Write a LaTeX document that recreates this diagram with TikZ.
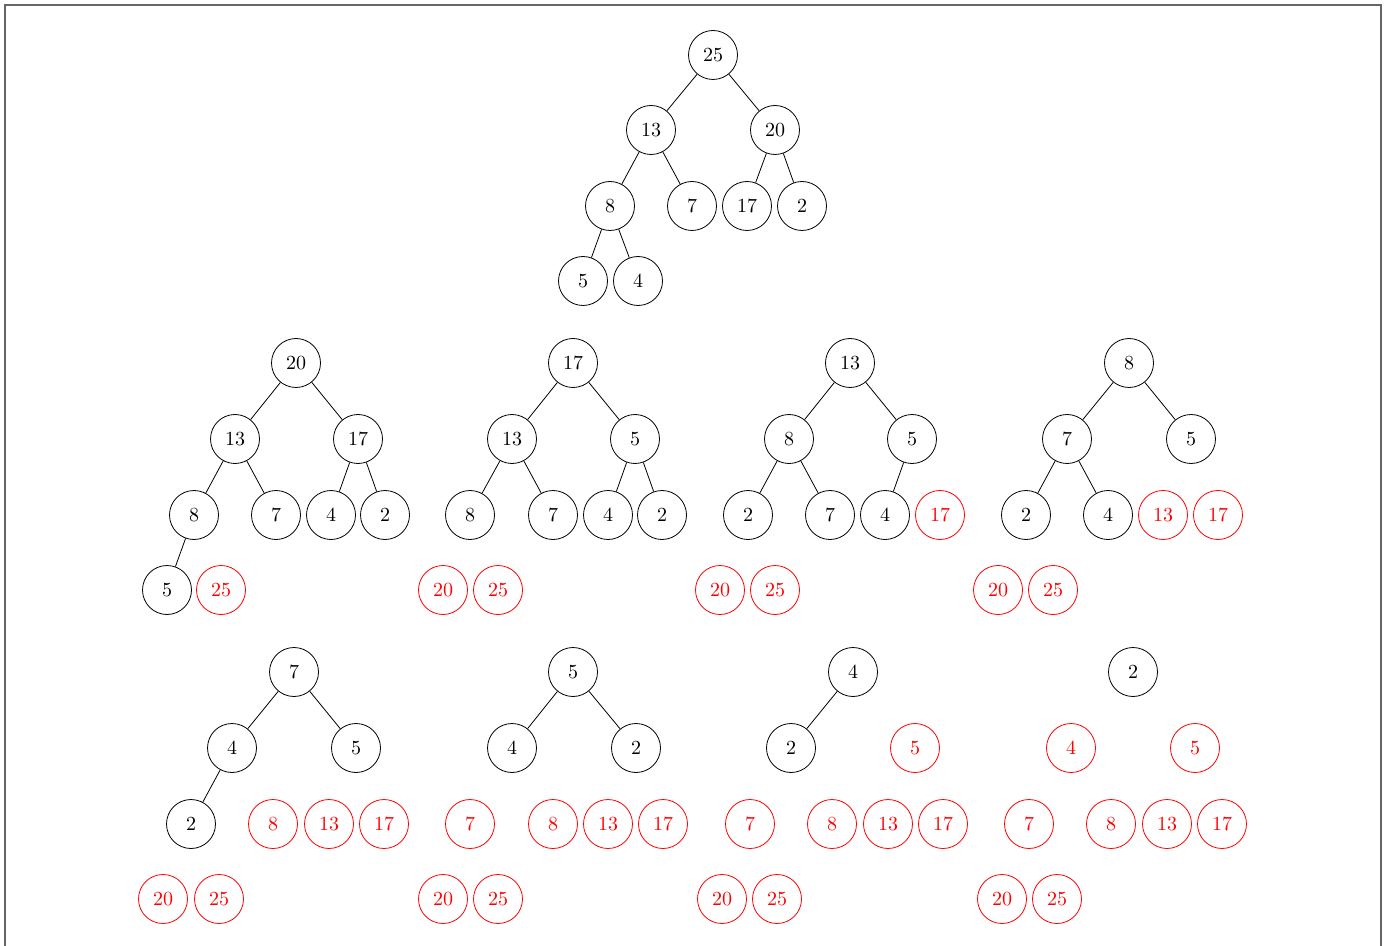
\documentclass[tikz,border=0pt]{standalone}
\begin{document}
\begin{tikzpicture}[x=0.5pt,y=-0.5pt,
  hn/.style={circle,draw=black,text=black,minimum size=24.5pt,inner sep=0pt,line width=0.4pt},
  dn/.style={circle,draw=red,text=red,minimum size=24.5pt,inner sep=0pt,line width=0.4pt},
  edge/.style={draw=black,line width=0.4pt}]
\useasboundingbox (0,0) rectangle (1386,946);
\clip (0,0) rectangle (1386,946);
\draw[black!60,line width=0.8pt] (5,5) rectangle (1381,980);
% Tree 1
\node[hn] (a25) at (713,55) {25};
\node[hn] (a13) at (651,130) {13};
\node[hn] (a20) at (775,130) {20};
\node[hn] (a8) at (610,206) {8};
\node[hn] (a7) at (692,206) {7};
\node[hn] (a17) at (747,206) {17};
\node[hn] (a2) at (802,206) {2};
\node[hn] (a5) at (583,281) {5};
\node[hn] (a4) at (638,281) {4};
\path[edge] (a25)--(a13) (a25)--(a20) (a13)--(a8) (a13)--(a7) (a20)--(a17) (a20)--(a2) (a8)--(a5) (a8)--(a4);
% Tree B1
\node[hn] (b20) at (296,363) {20};
\node[hn] (b13) at (235,439) {13};
\node[hn] (b17) at (358,439) {17};
\node[hn] (b8) at (194,515) {8};
\node[hn] (b7) at (276,515) {7};
\node[hn] (b4) at (331,515) {4};
\node[hn] (b2) at (385,515) {2};
\node[hn] (b5) at (167,590) {5};
\node[dn] (b25) at (221,590) {25};
\path[edge] (b20)--(b13) (b20)--(b17) (b13)--(b8) (b13)--(b7) (b17)--(b4) (b17)--(b2) (b8)--(b5);
% Tree C1
\node[hn] (c17) at (573,363) {17};
\node[hn] (c13) at (512,439) {13};
\node[hn] (c5) at (635,439) {5};
\node[hn] (c8) at (470,515) {8};
\node[hn] (c7) at (553,515) {7};
\node[hn] (c4) at (608,515) {4};
\node[hn] (c2) at (662,515) {2};
\node[dn] (c20) at (443,590) {20};
\node[dn] (c25) at (498,590) {25};
\path[edge] (c17)--(c13) (c17)--(c5) (c13)--(c8) (c13)--(c7) (c5)--(c4) (c5)--(c2);
% Tree D1
\node[hn] (d13) at (850,363) {13};
\node[hn] (d8) at (789,439) {8};
\node[hn] (d5) at (912,439) {5};
\node[hn] (d2) at (748,515) {2};
\node[hn] (d7) at (830,515) {7};
\node[hn] (d4) at (885,515) {4};
\node[dn] (d17) at (940,515) {17};
\node[dn] (d20) at (720,590) {20};
\node[dn] (d25) at (775,590) {25};
\path[edge] (d13)--(d8) (d13)--(d5) (d8)--(d2) (d8)--(d7) (d5)--(d4);
% Tree E1
\node[hn] (e8) at (1129,363) {8};
\node[hn] (e7) at (1067,439) {7};
\node[hn] (e5) at (1191,439) {5};
\node[hn] (e2) at (1026,515) {2};
\node[hn] (e4) at (1108,515) {4};
\node[dn] (e13) at (1163,515) {13};
\node[dn] (e17) at (1218,515) {17};
\node[dn] (e20) at (998,590) {20};
\node[dn] (e25) at (1053,590) {25};
\path[edge] (e8)--(e7) (e8)--(e5) (e7)--(e2) (e7)--(e4);
% Tree F1
\node[hn] (f7) at (294,672) {7};
\node[hn] (f4) at (232,748) {4};
\node[hn] (f5) at (356,748) {5};
\node[hn] (f2) at (191,824) {2};
\node[dn] (f8) at (273,824) {8};
\node[dn] (f13) at (329,824) {13};
\node[dn] (f17) at (384,824) {17};
\node[dn] (f20) at (163,899) {20};
\node[dn] (f25) at (219,899) {25};
\path[edge] (f7)--(f4) (f7)--(f5) (f4)--(f2);
% Tree G1
\node[hn] (g5) at (573,672) {5};
\node[hn] (g4) at (512,748) {4};
\node[hn] (g2) at (636,748) {2};
\node[dn] (g7) at (470,824) {7};
\node[dn] (g8) at (553,824) {8};
\node[dn] (g13) at (608,824) {13};
\node[dn] (g17) at (663,824) {17};
\node[dn] (g20) at (443,899) {20};
\node[dn] (g25) at (498,899) {25};
\path[edge] (g5)--(g4) (g5)--(g2);
% Tree H1
\node[hn] (h4) at (853,672) {4};
\node[hn] (h2) at (791,748) {2};
\node[dn] (h5) at (915,748) {5};
\node[dn] (h7) at (750,824) {7};
\node[dn] (h8) at (832,824) {8};
\node[dn] (h13) at (888,824) {13};
\node[dn] (h17) at (943,824) {17};
\node[dn] (h20) at (722,899) {20};
\node[dn] (h25) at (777,899) {25};
\path[edge] (h4)--(h2);
% Tree I1
\node[hn] (i2) at (1133,672) {2};
\node[dn] (i4) at (1071,748) {4};
\node[dn] (i5) at (1195,748) {5};
\node[dn] (i7) at (1029,824) {7};
\node[dn] (i8) at (1111,824) {8};
\node[dn] (i13) at (1167,824) {13};
\node[dn] (i17) at (1222,824) {17};
\node[dn] (i20) at (1002,899) {20};
\node[dn] (i25) at (1057,899) {25};
\end{tikzpicture}
\end{document}
